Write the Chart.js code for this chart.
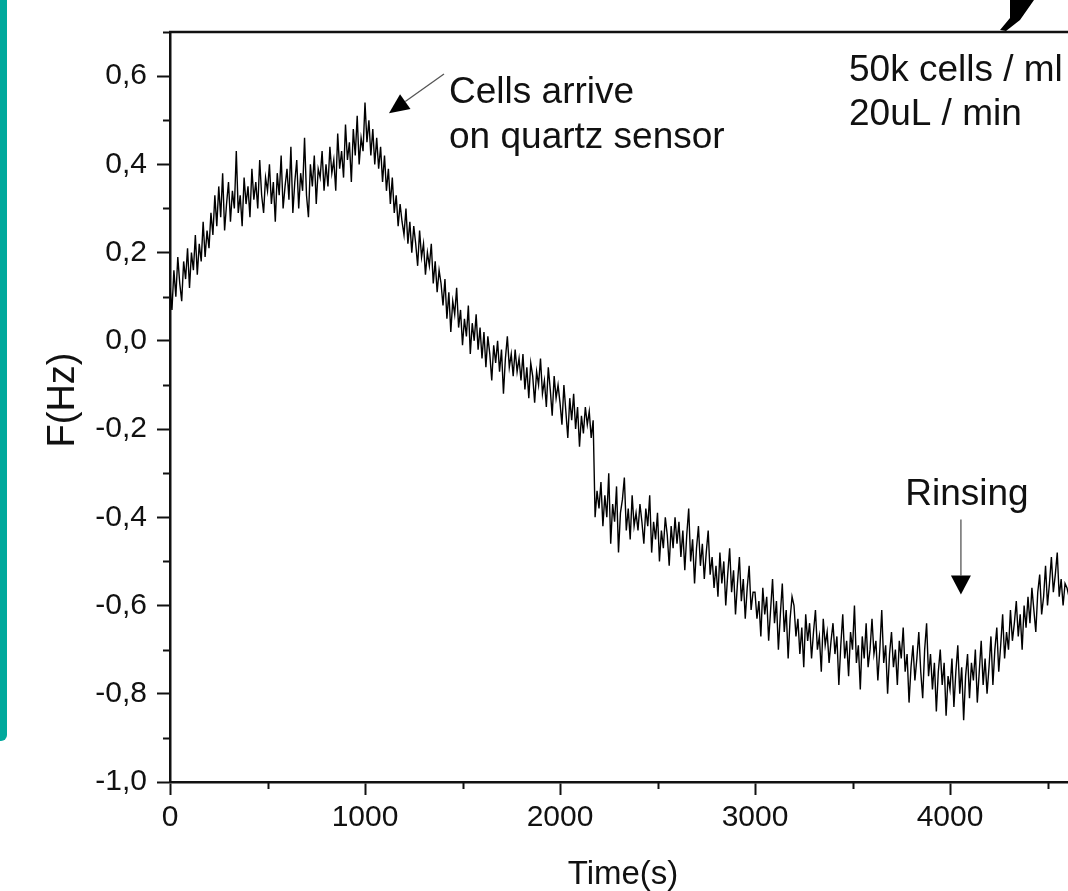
<!DOCTYPE html>
<html><head><meta charset="utf-8">
<script src="https://cdn.jsdelivr.net/npm/chart.js@4.4.1/dist/chart.umd.min.js"></script>
<style>
html,body{margin:0;padding:0;background:#fff;overflow:hidden;width:1068px;height:891px;}
#wrap{position:absolute;left:0;top:0;width:1160px;height:891px;}
#bar{position:absolute;left:0;top:0;width:7px;height:741px;background:#00A99C;border-bottom-right-radius:6px;}
#glyph{position:absolute;left:996px;top:0;width:40px;height:32px;background:#000;
 clip-path:polygon(14px 0,38px 0,24px 20px,10px 31px,4px 30px,14px 18px);}
</style></head>
<body>
<div id="wrap"><canvas id="c"></canvas></div>
<div id="bar"></div><div id="glyph"></div>
<script>
// Sampling interval of the recorded trace (seconds between samples)
const sampleStepSeconds = 10;
// Frequency shift F (Hz), one value every 10 s from t = 0
const frequencyHz = [
 0.12, 0.07, 0.16, 0.10, 0.19, 0.13, 0.09, 0.18, 0.14, 0.21, 0.12, 0.20, 0.16, 0.24, 0.15, 0.22, 0.18, 0.27, 0.19, 0.25,
 0.21, 0.29, 0.24, 0.33, 0.26, 0.35, 0.28, 0.38, 0.25, 0.31, 0.36, 0.27, 0.34, 0.30, 0.43, 0.29, 0.33, 0.26, 0.37, 0.31,
 0.35, 0.28, 0.39, 0.32, 0.36, 0.30, 0.41, 0.33, 0.29, 0.37, 0.34, 0.40, 0.31, 0.36, 0.27, 0.38, 0.33, 0.42, 0.30, 0.35,
 0.39, 0.32, 0.44, 0.29, 0.36, 0.41, 0.30, 0.38, 0.34, 0.46, 0.33, 0.28, 0.40, 0.35, 0.42, 0.31, 0.39, 0.37, 0.43, 0.34,
 0.40, 0.35, 0.44, 0.38, 0.41, 0.34, 0.47, 0.39, 0.43, 0.37, 0.49, 0.41, 0.45, 0.36, 0.48, 0.42, 0.51, 0.40, 0.46, 0.43,
 0.54, 0.45, 0.50, 0.42, 0.48, 0.40, 0.46, 0.39, 0.44, 0.36, 0.42, 0.34, 0.39, 0.31, 0.37, 0.29, 0.33, 0.26, 0.31, 0.27,
 0.24, 0.30, 0.22, 0.27, 0.20, 0.26, 0.22, 0.17, 0.25, 0.19, 0.22, 0.15, 0.20, 0.17, 0.22, 0.13, 0.18, 0.11, 0.16, 0.13,
 0.08, 0.14, 0.05, 0.11, 0.02, 0.09, 0.06, 0.12, 0.03, 0.07, -0.01, 0.05, 0.01, 0.08, -0.03, 0.04, 0.00, 0.06, -0.02, 0.03,
 -0.04, 0.02, -0.06, 0.01, -0.03, -0.09, -0.01, -0.05, 0.00, -0.07, -0.02, -0.12, -0.04, 0.01, -0.06, -0.03, -0.08, -0.02, -0.07, -0.04,
 -0.09, -0.03, -0.11, -0.06, -0.13, -0.05, -0.08, -0.14, -0.07, -0.10, -0.04, -0.12, -0.09, -0.15, -0.06, -0.11, -0.17, -0.08, -0.13, -0.10,
 -0.14, -0.19, -0.10, -0.16, -0.22, -0.13, -0.18, -0.12, -0.20, -0.15, -0.24, -0.17, -0.21, -0.15, -0.19, -0.16, -0.22, -0.18, -0.40, -0.34,
 -0.38, -0.32, -0.42, -0.35, -0.40, -0.30, -0.46, -0.37, -0.41, -0.33, -0.48, -0.39, -0.36, -0.31, -0.43, -0.38, -0.45, -0.35, -0.42, -0.39,
 -0.43, -0.37, -0.41, -0.46, -0.38, -0.42, -0.35, -0.48, -0.41, -0.45, -0.39, -0.50, -0.43, -0.47, -0.40, -0.44, -0.51, -0.42, -0.47, -0.40,
 -0.46, -0.41, -0.49, -0.43, -0.52, -0.44, -0.38, -0.50, -0.45, -0.55, -0.47, -0.42, -0.51, -0.46, -0.54, -0.48, -0.43, -0.53, -0.49, -0.56,
 -0.51, -0.58, -0.48, -0.55, -0.50, -0.60, -0.53, -0.47, -0.57, -0.52, -0.62, -0.55, -0.49, -0.59, -0.54, -0.63, -0.56, -0.51, -0.61, -0.57,
 -0.57, -0.63, -0.59, -0.67, -0.56, -0.62, -0.58, -0.68, -0.61, -0.54, -0.64, -0.59, -0.70, -0.62, -0.55, -0.66, -0.61, -0.72, -0.63, -0.58,
 -0.60, -0.67, -0.63, -0.71, -0.65, -0.74, -0.62, -0.68, -0.64, -0.72, -0.66, -0.61, -0.70, -0.67, -0.75, -0.63, -0.69, -0.66, -0.73, -0.68,
 -0.64, -0.71, -0.67, -0.78, -0.69, -0.62, -0.72, -0.68, -0.76, -0.66, -0.70, -0.60, -0.73, -0.69, -0.79, -0.67, -0.72, -0.64, -0.74, -0.70,
 -0.63, -0.71, -0.68, -0.77, -0.70, -0.61, -0.73, -0.69, -0.80, -0.71, -0.66, -0.74, -0.70, -0.78, -0.68, -0.72, -0.65, -0.75, -0.71, -0.82,
 -0.74, -0.69, -0.77, -0.72, -0.66, -0.75, -0.81, -0.70, -0.64, -0.76, -0.71, -0.79, -0.73, -0.84, -0.75, -0.70, -0.78, -0.73, -0.85, -0.76,
 -0.79, -0.72, -0.83, -0.75, -0.69, -0.80, -0.74, -0.86, -0.76, -0.71, -0.81, -0.73, -0.77, -0.70, -0.82, -0.75, -0.68, -0.78, -0.72, -0.80,
 -0.74, -0.67, -0.78, -0.70, -0.65, -0.75, -0.69, -0.62, -0.72, -0.66, -0.70, -0.61, -0.68, -0.64, -0.59, -0.67, -0.62, -0.70, -0.60, -0.65,
 -0.58, -0.64, -0.56, -0.61, -0.66, -0.57, -0.53, -0.62, -0.58, -0.51, -0.60, -0.55, -0.49, -0.57, -0.53, -0.48, -0.58, -0.54, -0.60, -0.55,
 -0.56, -0.58
];
// Axis tick values and labels
const yTickValues = [-1.0, -0.8, -0.6, -0.4, -0.2, 0.0, 0.2, 0.4, 0.6];
const yTickLabels = ['-1,0', '-0,8', '-0,6', '-0,4', '-0,2', '0,0', '0,2', '0,4', '0,6'];
const yMinorTicks = [-0.9, -0.7, -0.5, -0.3, -0.1, 0.1, 0.3, 0.5, 0.7];
const xTickValues = [0, 1000, 2000, 3000, 4000];
const xTickLabels = ['0', '1000', '2000', '3000', '4000'];
const xMinorTicks = [500, 1500, 2500, 3500, 4500];

const FONT = '"Liberation Sans", Arial, Helvetica, sans-serif';

const points = frequencyHz.map((v, i) => ({x: i * sampleStepSeconds, y: v}));

// Annotations (anchored in data coordinates)
const notes = [
  {text: 'Cells arrive', x: 1431, y: 0.539},
  {text: 'on quartz sensor', x: 1431, y: 0.436},
  {text: '50k cells / ml', x: 3482, y: 0.590},
  {text: '20uL / min', x: 3482, y: 0.489},
  {text: 'Rinsing', x: 4087, y: -0.372, align: 'center'}
];
const arrows = [
  {from: [1405, 0.605], to: [1123, 0.516], head: 20, half: 9},
  {from: [4056, -0.405], to: [4056, -0.575], head: 19, half: 10}
];

const decor = {
  id: 'decor',
  afterDraw(chart) {
    const {ctx, chartArea: ca, scales: {x, y}} = chart;
    ctx.save();
    // top frame line
    ctx.strokeStyle = '#111'; ctx.lineWidth = 2.5;
    ctx.beginPath(); ctx.moveTo(ca.left - 1, ca.top); ctx.lineTo(ca.right, ca.top); ctx.stroke();
    // minor ticks
    ctx.lineWidth = 2;
    yMinorTicks.forEach(v => {
      const py = Math.round(y.getPixelForValue(v)) + 0.5;
      ctx.beginPath(); ctx.moveTo(ca.left - 7, py); ctx.lineTo(ca.left, py); ctx.stroke();
    });
    xMinorTicks.forEach(v => {
      const px = Math.round(x.getPixelForValue(v)) + 0.5;
      ctx.beginPath(); ctx.moveTo(px, ca.bottom); ctx.lineTo(px, ca.bottom + 7); ctx.stroke();
    });
    // annotations
    ctx.fillStyle = '#111';
    ctx.font = '37px ' + FONT;
    ctx.textBaseline = 'alphabetic';
    notes.forEach(n => {
      ctx.textAlign = n.align || 'left';
      ctx.fillText(n.text, x.getPixelForValue(n.x), y.getPixelForValue(n.y));
    });
    arrows.forEach(a => {
      const x0 = x.getPixelForValue(a.from[0]), y0 = y.getPixelForValue(a.from[1]);
      const x1 = x.getPixelForValue(a.to[0]), y1 = y.getPixelForValue(a.to[1]);
      const dx = x1 - x0, dy = y1 - y0, L = Math.hypot(dx, dy);
      const ux = dx / L, uy = dy / L;
      const bx = x1 - ux * a.head, by = y1 - uy * a.head;
      ctx.strokeStyle = '#555'; ctx.lineWidth = 1.3;
      ctx.beginPath(); ctx.moveTo(x0, y0); ctx.lineTo(bx, by); ctx.stroke();
      ctx.fillStyle = '#000';
      ctx.beginPath();
      ctx.moveTo(x1, y1);
      ctx.lineTo(bx - uy * a.half, by + ux * a.half);
      ctx.lineTo(bx + uy * a.half, by - ux * a.half);
      ctx.closePath(); ctx.fill();
    });
    // axis titles
    ctx.fillStyle = '#111';
    ctx.font = '33px ' + FONT;
    ctx.textAlign = 'center'; ctx.textBaseline = 'middle';
    ctx.fillText('Time(s)', 623, 875);
    ctx.font = '38px ' + FONT;
    ctx.translate(64, 400); ctx.rotate(-Math.PI / 2);
    ctx.fillText('F(Hz)', 0, 0);
    ctx.restore();
  }
};

new Chart(document.getElementById('c'), {
  type: 'line',
  data: {datasets: [{
    data: points, borderColor: '#000', borderWidth: 1.4, pointRadius: 0, tension: 0, fill: false
  }]},
  options: {
    responsive: true, maintainAspectRatio: false, animation: false, devicePixelRatio: 1,
    layout: {padding: {top: 32, right: 15, left: 0, bottom: 0}},
    plugins: {legend: {display: false}, tooltip: {enabled: false}},
    scales: {
      x: {
        type: 'linear', min: 0, max: 5000,
        afterFit: s => { s.height = 109; },
        afterBuildTicks: s => { s.ticks = xTickValues.map(v => ({value: v})); },
        ticks: {
          callback: (v) => xTickLabels[xTickValues.indexOf(v)] ?? '',
          font: {size: 30, family: FONT}, color: '#111', padding: 5, maxRotation: 0, autoSkip: false
        },
        grid: {display: true, drawOnChartArea: false, drawTicks: true, tickLength: 13, tickColor: '#111', tickWidth: 2},
        border: {display: true, color: '#111', width: 2.5}
      },
      y: {
        type: 'linear', min: -1.0, max: 0.7,
        afterFit: s => { s.width = 170; },
        afterBuildTicks: s => { s.ticks = yTickValues.map(v => ({value: v})); },
        ticks: {
          callback: (v) => { const i = yTickValues.findIndex(t => Math.abs(t - v) < 1e-6); return i >= 0 ? yTickLabels[i] : ''; },
          font: {size: 30, family: FONT}, color: '#111', padding: 10, autoSkip: false
        },
        grid: {display: true, drawOnChartArea: false, drawTicks: true, tickLength: 13, tickColor: '#111', tickWidth: 2},
        border: {display: true, color: '#111', width: 2.5}
      }
    }
  },
  plugins: [decor]
});
</script>
</body></html>
